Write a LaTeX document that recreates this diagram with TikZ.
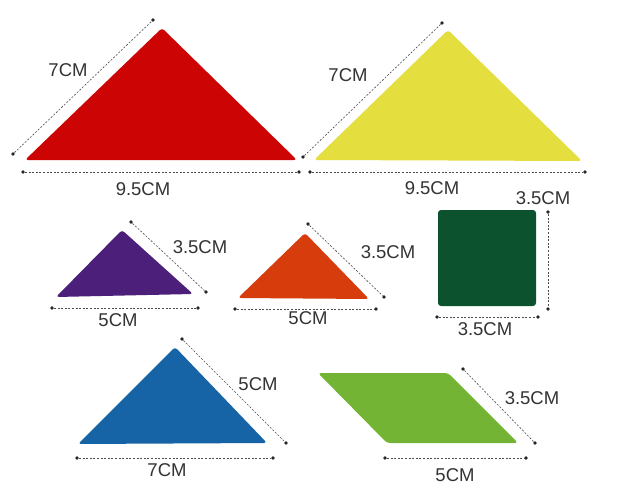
\documentclass[tikz,border=0pt]{standalone}
\usepackage{fontspec}
\setmainfont{Liberation Sans}
\definecolor{bigred}{RGB}{204,4,4}
\definecolor{bigyellow}{RGB}{228,222,62}
\definecolor{smallpurple}{RGB}{76,32,122}
\definecolor{smallorange}{RGB}{214,60,12}
\definecolor{squaregreen}{RGB}{12,82,46}
\definecolor{midblue}{RGB}{22,100,166}
\definecolor{paragreen}{RGB}{116,180,52}
\begin{document}
\begin{tikzpicture}[
    x=1pt, y=-1pt,
    % Styles
    piece/.style={rounded corners=3pt},
    dimline/.style={line width=0.6pt, black!70, dash pattern=on 2pt off 1.6pt},
    enddot/.style={circle, fill=black!85, inner sep=0pt, minimum size=3.6pt},
    dimlabel/.style={font=\fontsize{18.5}{20}\selectfont, text=black!80, inner sep=0pt},
]
\useasboundingbox[fill=white] (0,0) rectangle (626,500);

% Large red triangle
\fill[bigred, piece] (25,160) -- (162,28) -- (297,160) -- cycle;
\node[enddot] (redsideA) at (13,154) {};
\node[enddot] (redsideB) at (153,20) {};
\draw[dimline] (redsideA) -- (redsideB);
\node[dimlabel] (redside) at (68,70) {7CM};
\node[enddot] (redbaseA) at (23,172) {};
\node[enddot] (redbaseB) at (299,172) {};
\draw[dimline] (redbaseA) -- (redbaseB);
\node[dimlabel] (redbase) at (143,189) {9.5CM};

% Large yellow triangle
\fill[bigyellow, piece] (314,160) -- (448,30) -- (582,161) -- cycle;
\node[enddot] (yelsideA) at (303,157) {};
\node[enddot] (yelsideB) at (442,23) {};
\draw[dimline] (yelsideA) -- (yelsideB);
\node[dimlabel] (yelside) at (348,75) {7CM};
\node[enddot] (yelbaseA) at (310,172) {};
\node[enddot] (yelbaseB) at (585,172) {};
\draw[dimline] (yelbaseA) -- (yelbaseB);
\node[dimlabel] (yelbase) at (432,188) {9.5CM};

% Small purple triangle
\fill[smallpurple, piece] (56,297) -- (122,230) -- (193,294) -- cycle;
\node[enddot] (purpsideA) at (131,222) {};
\node[enddot] (purpsideB) at (206,292) {};
\draw[dimline] (purpsideA) -- (purpsideB);
\node[dimlabel] (purpside) at (200,247) {3.5CM};
\node[enddot] (purpbaseA) at (52,308) {};
\node[enddot] (purpbaseB) at (198,308) {};
\draw[dimline] (purpbaseA) -- (purpbaseB);
\node[dimlabel] (purpbase) at (118,320) {5CM};

% Small orange triangle
\fill[smallorange, piece] (238,298) -- (305,233) -- (369,299) -- cycle;
\node[enddot] (orsideA) at (308,224) {};
\node[enddot] (orsideB) at (384,297) {};
\draw[dimline] (orsideA) -- (orsideB);
\node[dimlabel] (orside) at (388,252) {3.5CM};
\node[enddot] (orbaseA) at (235,309) {};
\node[enddot] (orbaseB) at (376,309) {};
\draw[dimline] (orbaseA) -- (orbaseB);
\node[dimlabel] (orbase) at (308,318) {5CM};

% Green square
\fill[squaregreen, piece] (438,210) rectangle (536,306);
\node[enddot] (sqsideA) at (548,212) {};
\node[enddot] (sqsideB) at (548,309) {};
\draw[dimline] (sqsideA) -- (sqsideB);
\node[dimlabel] (sqside) at (543,198) {3.5CM};
\node[enddot] (sqbaseA) at (437,317) {};
\node[enddot] (sqbaseB) at (538,317) {};
\draw[dimline] (sqbaseA) -- (sqbaseB);
\node[dimlabel] (sqbase) at (485,329) {3.5CM};

% Medium blue triangle
\fill[midblue, piece] (78,444) -- (175,347) -- (267,443) -- cycle;
\node[enddot] (bluesideA) at (182,339) {};
\node[enddot] (bluesideB) at (286,443) {};
\draw[dimline] (bluesideA) -- (bluesideB);
\node[dimlabel] (blueside) at (258,384) {5CM};
\node[enddot] (bluebaseA) at (77,458) {};
\node[enddot] (bluebaseB) at (273,458) {};
\draw[dimline] (bluebaseA) -- (bluebaseB);
\node[dimlabel] (bluebase) at (167,470) {7CM};

% Light green parallelogram
\fill[paragreen, piece] (318,373) -- (448,373) -- (518,443) -- (387,443) -- cycle;
\node[enddot] (parasideA) at (463,369) {};
\node[enddot] (parasideB) at (535,443) {};
\draw[dimline] (parasideA) -- (parasideB);
\node[dimlabel] (paraside) at (532,398) {3.5CM};
\node[enddot] (parabaseA) at (385,458) {};
\node[enddot] (parabaseB) at (526,458) {};
\draw[dimline] (parabaseA) -- (parabaseB);
\node[dimlabel] (parabase) at (455,475) {5CM};

\end{tikzpicture}
\end{document}
